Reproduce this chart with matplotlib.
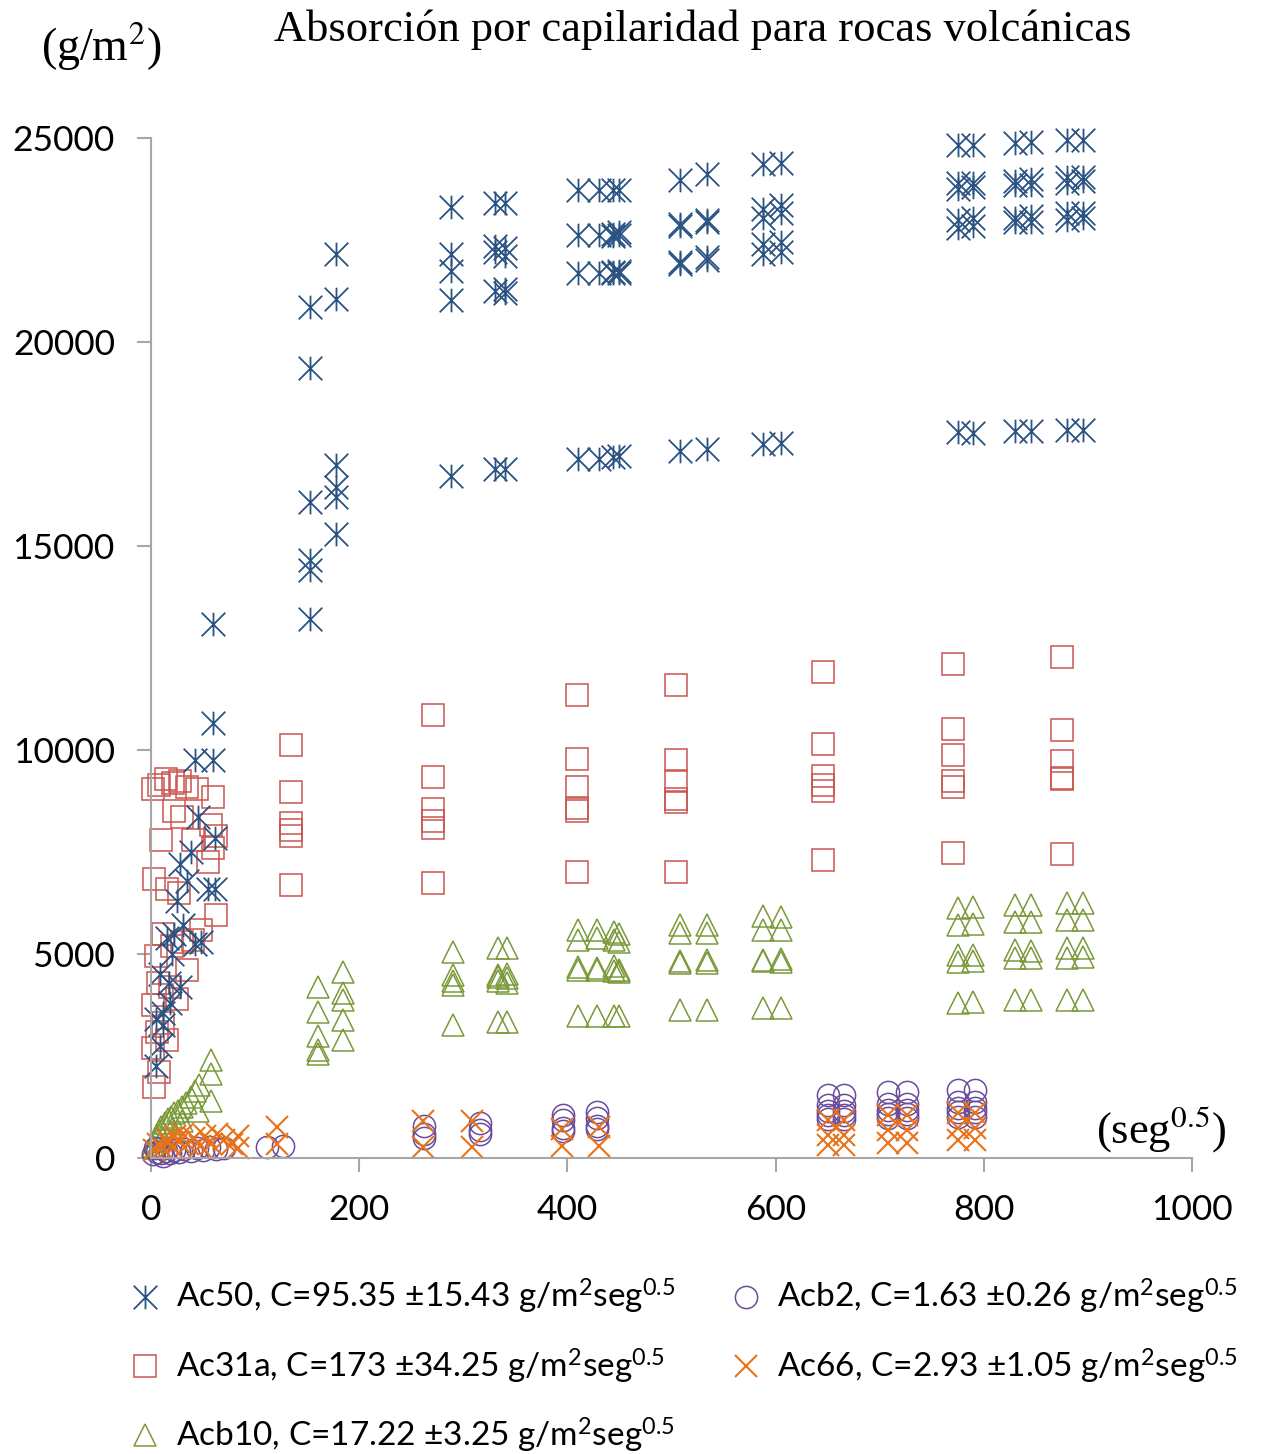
import matplotlib
matplotlib.use("Agg")
import numpy as np
from matplotlib import pyplot as plt
from matplotlib.path import Path

# ---- data: x = seg^0.5, y = g/m2 ----
ac50_x = [5, 9, 12, 5, 12, 18, 9, 28, 20, 15, 42, 48, 31, 22, 25, 55, 61, 28, 38, 61, 45, 42, 60, 60, 60, 35, 17,
          153, 153, 153, 153, 153, 153,
          178, 178, 178, 178, 178, 178,
          288, 288, 288, 288, 288,
          330, 330, 330, 330, 330,
          340, 340, 340, 340, 340, 340,
          410, 410, 410, 410,
          430, 430, 430, 430,
          444, 444, 444, 444, 444, 444,
          450, 450, 450, 450, 450, 450,
          508, 508, 508, 508, 508, 508,
          534, 534, 534, 534, 534, 534,
          588, 588, 588, 588, 588, 588,
          605, 605, 605, 605, 605, 605,
          775, 775, 775, 775, 775, 775,
          790, 790, 790, 790, 790, 790,
          830, 830, 830, 830, 830, 830,
          845, 845, 845, 845, 845, 845,
          880, 880, 880, 880, 880, 880,
          895, 895, 895, 895, 895, 895]
ac50_y = [2250, 2750, 3250, 3400, 3550, 3800, 4500, 4200, 5000, 5400, 5250, 5300, 5700, 5500, 6300, 6600, 6600,
          7200, 7500, 7850, 8350, 9750, 9750, 10650, 13100, 6800, 4300,
          20850, 19360, 16080, 14650, 14410, 13200,
          22160, 21050, 16980, 16450, 16200, 15300,
          23300, 22150, 21750, 21030, 16720,
          23400, 22200, 22350, 21250, 16880,
          23400, 22300, 22100, 21300, 21200, 16880,
          23720, 22620, 21680, 17130,
          23720, 22620, 21700, 17140,
          23720, 22650, 22600, 21720, 21680, 17170,
          23720, 22700, 22620, 21750, 21700, 17200,
          23970, 22900, 22850, 21950, 21900, 17330,
          24120, 23000, 22950, 22080, 22000, 17380,
          24360, 23250, 23050, 22400, 22150, 17500,
          24380, 23350, 23150, 22450, 22200, 17520,
          24830, 23900, 23750, 23000, 22800, 17800,
          24830, 23900, 23800, 23050, 22850, 17780,
          24880, 23950, 23850, 23050, 22950, 17820,
          24900, 24000, 23850, 23100, 22950, 17830,
          24960, 24050, 23900, 23150, 23000, 17850,
          24960, 24050, 23950, 23150, 23050, 17850]

ac31a_x = [2, 8, 14, 21, 28, 35, 44, 60, 10, 22, 30, 40, 58, 62, 60, 3, 15, 27, 55, 62,
           5, 12, 20, 30, 40, 48, 2, 7, 11, 18, 25, 35, 2, 6, 12, 3, 8, 15,
           134.5, 134.5, 134.5, 134.5, 134.5, 134.5,
           271, 271, 271, 271, 271, 271,
           409, 409, 409, 409, 409, 409,
           504, 504, 504, 504, 504, 504,
           646, 646, 646, 646, 646, 646,
           770, 770, 770, 770, 770, 770,
           875, 875, 875, 875, 875, 875]
ac31a_y = [9050, 9150, 9300, 9200, 9250, 9100, 9050, 8850, 7800, 8500, 8350, 7800, 8150, 7900, 7600,
           6850, 6600, 6500, 7250, 5950, 4950, 5500, 5200, 5300, 5350, 5600,
           3750, 4300, 4000, 4200, 3900, 4600, 2700, 3100, 3300, 1750, 2100, 2900,
           10120, 8980, 8200, 8050, 7890, 6690,
           10860, 9345, 8550, 8270, 8100, 6740,
           11350, 9780, 9090, 8580, 8510, 7020,
           11590, 9750, 9240, 8800, 8720, 7020,
           11920, 10150, 9360, 9130, 8990, 7300,
           12120, 10510, 9880, 9250, 9100, 7480,
           12270, 10490, 9730, 9320, 9280, 7450]

acb10_x = [2, 4, 6, 8, 10, 13, 16, 19, 22, 26, 30, 34, 38, 42, 46, 58, 58, 58, 45, 20, 12, 30, 5,
           160, 160, 160, 160, 160,
           184, 184, 184, 184, 184,
           290, 290, 290, 290, 290,
           333, 333, 333, 333, 333,
           342, 342, 342, 342, 342,
           410, 410, 410, 410, 410,
           428, 428, 428, 428, 428,
           445, 445, 445, 445, 445,
           450, 450, 450, 450, 450,
           508, 508, 508, 508, 508,
           534, 534, 534, 534, 534,
           588, 588, 588, 588, 588,
           605, 605, 605, 605, 605,
           775, 775, 775, 775, 775,
           790, 790, 790, 790, 790,
           830, 830, 830, 830, 830,
           845, 845, 845, 845, 845,
           880, 880, 880, 880, 880,
           895, 895, 895, 895, 895]
acb10_y = [300, 420, 550, 650, 750, 850, 950, 1000, 1100, 1150, 1250, 1350, 1500, 1650, 1800,
           2400, 2050, 1400, 1150, 700, 500, 900, 250,
           4200, 3590, 2980, 2650, 2550,
           4570, 4040, 3870, 3380, 2890,
           5050, 4480, 4350, 4240, 3260,
           5150, 4490, 4440, 4350, 3340,
           5150, 4500, 4400, 4300, 3340,
           5590, 5340, 4690, 4610, 3470,
           5590, 5400, 4650, 4600, 3470,
           5550, 5350, 4700, 4580, 3470,
           5500, 5300, 4600, 4550, 3470,
           5710, 5510, 4820, 4780, 3630,
           5710, 5520, 4850, 4780, 3630,
           5920, 5590, 4850, 4820, 3670,
           5900, 5600, 4870, 4800, 3670,
           6130, 5710, 4975, 4800, 3800,
           6150, 5730, 4975, 4820, 3820,
           6200, 5780, 5100, 4900, 3870,
           6200, 5780, 5080, 4900, 3870,
           6250, 5830, 5150, 4900, 3870,
           6250, 5830, 5150, 4920, 3880]

acb2_x = [2, 6, 10, 14, 18, 22, 27, 32, 38, 44, 50, 56, 62, 70, 4, 12,
          111, 127,
          262, 262, 262,
          316, 316, 316,
          396, 396, 396, 396,
          428, 428, 428, 428,
          650, 650, 650, 650, 650,
          666, 666, 666, 666, 666,
          708, 708, 708, 708, 708,
          726, 726, 726, 726, 726,
          775, 775, 775, 775, 775,
          792, 792, 792, 792, 792]
acb2_y = [100, 150, 120, 180, 130, 200, 150, 220, 180, 250, 200, 260, 230, 250, 250, 60,
          280, 300,
          790, 600, 500,
          870, 690, 600,
          1050, 930, 740, 650,
          1130, 980, 780, 700,
          1540, 1300, 1150, 1050, 950,
          1540, 1300, 1150, 1050, 950,
          1620, 1330, 1180, 1080, 980,
          1620, 1330, 1180, 1080, 980,
          1670, 1380, 1220, 1120, 1000,
          1670, 1380, 1220, 1120, 1000]

ac66_x = [3, 7, 11, 15, 19, 23, 27, 31, 36, 41, 47, 52, 58, 63, 70, 78, 84, 84, 121, 121,
          261, 261, 308, 308, 395, 395, 430, 430,
          650, 650, 650, 666, 666, 666,
          708, 708, 708, 726, 726, 726,
          775, 775, 775, 792, 792, 792]
ac66_y = [200, 350, 250, 450, 300, 550, 400, 600, 350, 500, 300, 550, 350, 600, 450, 350, 250, 550, 750, 350,
          900, 280, 900, 280, 700, 300, 750, 300,
          930, 560, 320, 930, 560, 320,
          1050, 690, 370, 1050, 690, 370,
          1100, 740, 440, 1100, 740, 440]

labels = ["Ac50, C=95.35 ±15.43 g/m$^{2}$seg$^{0.5}$",
          "Ac31a, C=173 ±34.25 g/m$^{2}$seg$^{0.5}$",
          "Acb10, C=17.22 ±3.25 g/m$^{2}$seg$^{0.5}$",
          "Acb2, C=1.63 ±0.26 g/m$^{2}$seg$^{0.5}$",
          "Ac66, C=2.93 ±1.05 g/m$^{2}$seg$^{0.5}$"]

plt.rcParams['font.family'] = ['Lato', 'DejaVu Sans']
plt.rcParams['mathtext.fontset'] = 'custom'
plt.rcParams['mathtext.rm'] = 'Lato'
plt.rcParams['mathtext.it'] = 'Lato'

# Excel style asterisk: X with a vertical bar
star = Path([(-1, -1), (1, 1), (-1, 1), (1, -1), (0, -1), (0, 1)],
            [Path.MOVETO, Path.LINETO] * 3)

blue = '#2a5283'
red = '#c9554f'
green = '#7a9a3a'
purple = '#6a4c9c'
orange = '#e8731a'
axcol = '#a6a6a6'

fig = plt.figure(figsize=(12.74, 14.54), dpi=100)
ax = fig.add_axes([151 / 1274, 1 - 1158 / 1454, (1192 - 151) / 1274, (1158 - 138) / 1454])

kw = dict(linestyle='none', mfc='none', clip_on=False)
h31, = ax.plot(ac31a_x, ac31a_y, marker='s', ms=15.5, mec=red, mew=1.1, **kw)
h50, = ax.plot(ac50_x, ac50_y, marker=star, ms=17, mec=blue, mew=1.3, **kw)
h10, = ax.plot(acb10_x, acb10_y, marker='^', ms=16, mec=green, mew=1.1, **kw)
h2, = ax.plot(acb2_x, acb2_y, marker='o', ms=16, mec=purple, mew=1.1, **kw)
h66, = ax.plot(ac66_x, ac66_y, marker='x', ms=16, mec=orange, mew=1.5, **kw)

ax.set_xlim(0, 1000)
ax.set_ylim(0, 25000)
ax.set_xticks(np.arange(0, 1001, 200))
ax.set_yticks(np.arange(0, 25001, 5000))
for s in ['top', 'right']:
    ax.spines[s].set_visible(False)
for s in ['left', 'bottom']:
    ax.spines[s].set_color(axcol)
    ax.spines[s].set_linewidth(1.5)
ax.tick_params(direction='out', length=10, width=1.5, color=axcol, labelsize=25.5, pad=16)

fig.text(703 / 1274, 1 - 30 / 1454, "Absorción por capilaridad para rocas volcánicas",
         family='Liberation Serif', fontsize=32, ha='center', va='center')
fig.text(101 / 1274, 1 - 47 / 1454, "(g/m$^{2}$)", family='Liberation Serif', fontsize=33,
         ha='center', va='center', math_fontfamily='stix')
fig.text(1161 / 1274, 1 - 1130 / 1454, "(seg$^{0.5}$)", family='Liberation Serif', fontsize=32,
         ha='center', va='center', math_fontfamily='stix')

fig.legend([h50, h31, h10, h2, h66], labels, ncol=2, frameon=False,
           loc='upper left', bbox_to_anchor=(118 / 1274, 1 - 1264 / 1454),
           fontsize=24, handlelength=0.8, handletextpad=0.55, columnspacing=1.7,
           labelspacing=0.9, borderaxespad=0)

fig.savefig("out.png", dpi=100)
